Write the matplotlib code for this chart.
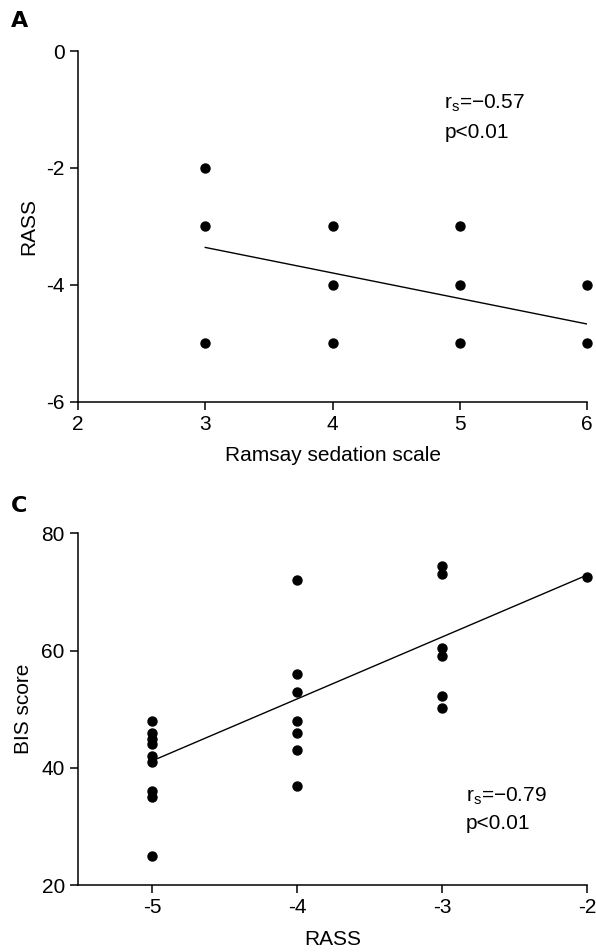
import matplotlib
matplotlib.use("Agg")
import matplotlib.pyplot as plt

plt.rcParams['font.family'] = ['Liberation Sans', 'DejaVu Sans']
plt.rcParams['mathtext.fontset'] = 'custom'
plt.rcParams['mathtext.rm'] = 'Liberation Sans'
plt.rcParams['mathtext.it'] = 'Liberation Sans'

# Panel A: Ramsay sedation scale vs RASS
ramsay_x = [3, 3, 3, 4, 4, 4, 5, 5, 5, 6, 6]
rass_y = [-2, -3, -5, -3, -4, -5, -3, -4, -5, -4, -5]
fitA_x = [3, 6]
fitA_y = [-3.36, -4.67]
ticksA_x = [2, 3, 4, 5, 6]
ticksA_y = [-6, -4, -2, 0]

# Panel C: RASS vs BIS score
rass_x = [-5] * 9 + [-4] * 7 + [-3] * 6 + [-2]
bis_y = [48, 46, 45, 44, 42, 41, 36, 35, 25,
         72, 56, 53, 48, 46, 43, 37,
         74.4, 73.1, 60.4, 59.1, 52.3, 50.2,
         72.6]
fitC_x = [-5, -2]
fitC_y = [41.2, 72.9]
ticksC_x = [-5, -4, -3, -2]
ticksC_y = [20, 40, 60, 80]

fig = plt.figure(figsize=(5.96, 9.52), dpi=100)
axA = fig.add_axes([0.1309, 0.578, 0.854, 0.3684])
axC = fig.add_axes([0.1309, 0.0701, 0.8545, 0.3697])

fs = 15
for ax in (axA, axC):
    for s in ('top', 'right'):
        ax.spines[s].set_visible(False)
    for s in ('left', 'bottom'):
        ax.spines[s].set_linewidth(1.1)
    ax.tick_params(direction='out', length=5.5, width=1.1, labelsize=fs, pad=4)

# Panel A
axA.scatter(ramsay_x, rass_y, s=42, color='black', zorder=3, clip_on=False)
axA.plot(fitA_x, fitA_y, color='black', lw=1.0)
axA.set_xlim(2, 6)
axA.set_ylim(-6, 0)
axA.set_xticks(ticksA_x)
axA.set_yticks(ticksA_y)
axA.set_xticklabels([str(t) for t in ticksA_x])
axA.set_yticklabels([str(t) for t in ticksA_y])
axA.set_xlabel('Ramsay sedation scale', fontsize=fs, labelpad=9)
axA.set_ylabel('RASS', fontsize=fs, labelpad=6)
axA.text(4.88, -0.9, r'r$_{\mathrm{s}}$=−0.57', fontsize=15, va='center', ha='left')
axA.text(4.88, -1.4, 'p<0.01', fontsize=15, va='center', ha='left')

# Panel C
axC.scatter(rass_x, bis_y, s=42, color='black', zorder=3, clip_on=False)
axC.plot(fitC_x, fitC_y, color='black', lw=1.0)
axC.set_xlim(-5.51, -2)
axC.set_ylim(20, 80)
axC.set_xticks(ticksC_x)
axC.set_yticks(ticksC_y)
axC.set_xticklabels([str(t) for t in ticksC_x])
axC.set_yticklabels([str(t) for t in ticksC_y])
axC.set_xlabel('RASS', fontsize=fs, labelpad=9)
axC.set_ylabel('BIS score', fontsize=fs, labelpad=6)
axC.text(-2.835, 35.1, r'r$_{\mathrm{s}}$=−0.79', fontsize=15, va='center', ha='left')
axC.text(-2.835, 30.6, 'p<0.01', fontsize=15, va='center', ha='left')

# Panel letters
fig.text(11 / 596, 1 - 21 / 952, 'A', fontsize=16, fontweight='bold',
         family=['Liberation Sans Narrow', 'DejaVu Sans'], va='center', ha='left')
fig.text(11 / 596, 1 - 506 / 952, 'C', fontsize=16, fontweight='bold',
         family=['Liberation Sans Narrow', 'DejaVu Sans'], va='center', ha='left')

fig.savefig('out.png', dpi=100)
